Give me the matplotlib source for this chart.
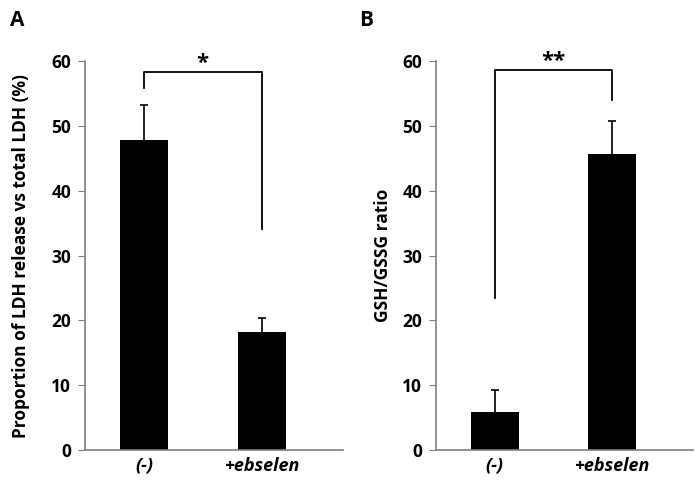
import matplotlib.pyplot as plt
import numpy as np

plt.rcParams['font.family'] = ['Open Sans', 'DejaVu Sans']
plt.rcParams['font.weight'] = 'bold'

groups = ['(-)', '+ebselen']

# panel A: LDH release
ldh_mean = [47.8, 18.2]
ldh_err = [5.5, 2.2]

# panel B: GSH/GSSG ratio
gsh_mean = [5.9, 45.7]
gsh_err = [3.4, 5.1]

fig = plt.figure(figsize=(6.97, 4.8), dpi=100)
axA = fig.add_axes([0.122, 0.0625, 0.37, 0.81])
axB = fig.add_axes([0.6255, 0.0625, 0.369, 0.81])


def draw_panel(ax, means, errs, ylabel, lpad, bracket_y, left_end, right_end, stars):
    x = np.arange(len(groups))
    means = np.array(means)
    errs = np.array(errs)
    ax.bar(x, means, width=0.41, color='black', zorder=2)
    # upper-only error bars with a cap on top
    ax.vlines(x, means, means + errs, color='black', lw=1.2, zorder=1)
    ax.hlines(means + errs, x - 0.035, x + 0.035, color='black', lw=1.2, zorder=1)
    ax.set_xlim(-0.5, 1.69)
    ax.set_ylim(0, 60)
    ax.set_yticks(range(0, 61, 10))
    ax.set_xticks(x)
    ax.set_xticklabels(groups, fontsize=13, fontstyle='italic', fontweight='bold')
    ax.tick_params(axis='x', length=0, pad=5)
    ax.tick_params(axis='y', length=5, color='#808080', labelsize=12.5, pad=5)
    for lbl in ax.get_yticklabels():
        lbl.set_fontweight('bold')
    for s in ['top', 'right']:
        ax.spines[s].set_visible(False)
    for s in ['left', 'bottom']:
        ax.spines[s].set_color('#808080')
        ax.spines[s].set_linewidth(1.2)
    ax.set_ylabel(ylabel, fontsize=12.5, fontweight='bold', labelpad=lpad)
    # significance bracket
    ax.plot([0, 0, 1, 1], [left_end, bracket_y, bracket_y, right_end],
            color='black', lw=1.3, clip_on=False)
    ax.text(0.5, bracket_y - 0.3, stars, ha='center', va='bottom',
            fontsize=16, fontweight='bold')


draw_panel(axA, ldh_mean, ldh_err, 'Proportion of LDH release vs total LDH (%)', 15,
           58.4, 55.8, 34.1, '*')
draw_panel(axB, gsh_mean, gsh_err, 'GSH/GSSG ratio', 7,
           58.6, 23.5, 54.0, '**')

fig.text(0.015, 0.98, 'A', fontsize=15, fontweight='bold', va='top')
fig.text(0.515, 0.98, 'B', fontsize=15, fontweight='bold', va='top')

fig.savefig('out.png', dpi=100)
